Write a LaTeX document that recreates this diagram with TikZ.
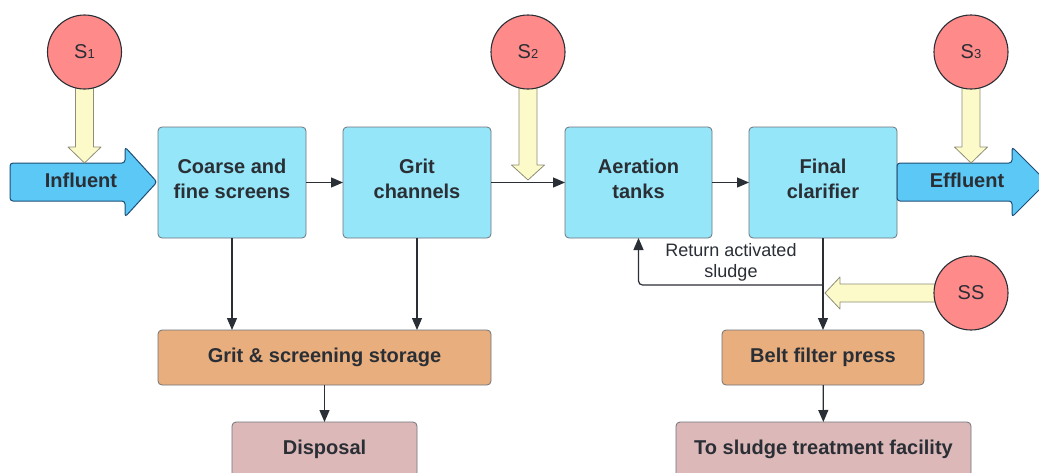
\documentclass[tikz,border=0pt]{standalone}
\usepackage{fontspec}
\setmainfont{Liberation Sans}
\usetikzlibrary{arrows.meta}
\definecolor{boxblue}{HTML}{95E6F8}
\definecolor{arrowblue}{HTML}{5BC8F5}
\definecolor{arrowedge}{HTML}{1E4E78}
\definecolor{srcred}{HTML}{FF8A8A}
\definecolor{fatyellow}{HTML}{FCFAC8}
\definecolor{fatedge}{HTML}{8E8E78}
\definecolor{storeorange}{HTML}{E8AE7E}
\definecolor{endpink}{HTML}{DDB8B8}
\definecolor{ink}{HTML}{2A2E35}
\definecolor{boxedge}{HTML}{6E747C}
\newcommand\fatdown[4]{%
  \draw[fatarrow] (#1-9,#2) -- (#1-9,#3) -- (#1-16.5,#3) -- (#1,#4) -- (#1+16.5,#3) -- (#1+9,#3) -- (#1+9,#2) -- cycle;}
\begin{document}
\begin{tikzpicture}[x=1pt,y=-1pt,
  txt/.style={font=\fontsize{20}{25}\selectfont\bfseries, text=ink, align=center},
  proc/.style={txt, draw=boxedge, line width=0.8pt, rounded corners=4pt, fill=boxblue, outer sep=0pt, minimum width=148, minimum height=111, text depth=8pt},
  store/.style={txt, draw=boxedge, line width=0.8pt, rounded corners=4pt, fill=storeorange, outer sep=0pt, minimum height=55},
  final/.style={txt, draw=boxedge, line width=0.8pt, rounded corners=4pt, fill=endpink, outer sep=0pt, minimum height=55},
  src/.style={circle, draw=ink, line width=1.1pt, fill=srcred, minimum size=74, inner sep=0pt, font=\fontsize{20}{20}\selectfont, text=ink},
  conn/.style={draw=ink, line width=1.2pt, -{Triangle[length=12pt,width=10pt]}},
  fatarrow/.style={draw=fatedge, line width=0.8pt, fill=fatyellow, line join=round},
  bigarrow/.style={draw=arrowedge, line width=1pt, fill=arrowblue, rounded corners=3pt}
]
\useasboundingbox (0,0) rectangle (1039,472);
\clip (0,0) rectangle (1039,472);
\fill[white] (0,0) rectangle (1039,472);

% process boxes
\node[proc] (b1) at (232,182.5) {Coarse and\\fine screens};
\node[proc] (b2) at (417,182.5) {Grit\\channels};
\node[proc, minimum width=147] (b3) at (638.5,182.5) {Aeration\\tanks};
\node[proc] (b4) at (823,182.5) {Final\\clarifier};
\node[store, minimum width=333] (storage) at (324.5,357.5) {Grit \& screening storage};
\node[final, minimum width=185] (disposal) at (324.5,449.5) {Disposal};
\node[store, minimum width=202] (belt) at (823,357.5) {Belt filter press};
\node[final, minimum width=295] (sludge) at (823.5,449.5) {To sludge treatment facility};

% influent / effluent
\draw[bigarrow] (10,163) -- (125,163) -- (125,147) -- (157,182) -- (125,217) -- (125,201) -- (10,201) -- cycle;
\node[txt] (influent) at (81,180) {Influent};
\draw[bigarrow] (897,163) -- (1012,163) -- (1012,147) -- (1047,182) -- (1012,217) -- (1012,201) -- (897,201) -- cycle;
\node[txt] (effluent) at (967,180) {Effluent};

% connectors
\draw[conn] (b1) -- (b2);
\draw[conn] (b2) -- (b3);
\draw[conn] (b3) -- (b4);
\draw[conn] (b1.south) -- (b1.south |- storage.north);
\draw[conn] (b2.south) -- (b2.south |- storage.north);
\draw[conn] (storage) -- (disposal);
\draw[conn] (b4) -- (belt);
\draw[conn] (belt) -- (sludge);
\coordinate (ret) at (823,285);
\draw[conn, rounded corners=4pt] (ret) -| (b3.south);
\node[font=\fontsize{18}{21}\selectfont, text=ink, align=center] (retlbl) at (731,262) {Return activated\\sludge};

% sampling point arrows
\fatdown{84.5}{70}{147}{163}
\fatdown{528}{70}{165}{180}
\fatdown{971}{70}{147}{163}
\draw[fatarrow] (950,284) -- (840,284) -- (840,277) -- (825,293) -- (840,309) -- (840,302) -- (950,302) -- cycle;

% sampling points
\node[src] (s1) at (84.5,52) {S{\fontsize{13}{13}\selectfont 1}};
\node[src] (s2) at (528,52) {S{\fontsize{13}{13}\selectfont 2}};
\node[src] (s3) at (971,52) {S{\fontsize{13}{13}\selectfont 3}};
\node[src] (ss) at (971,293) {SS};
\end{tikzpicture}
\end{document}
